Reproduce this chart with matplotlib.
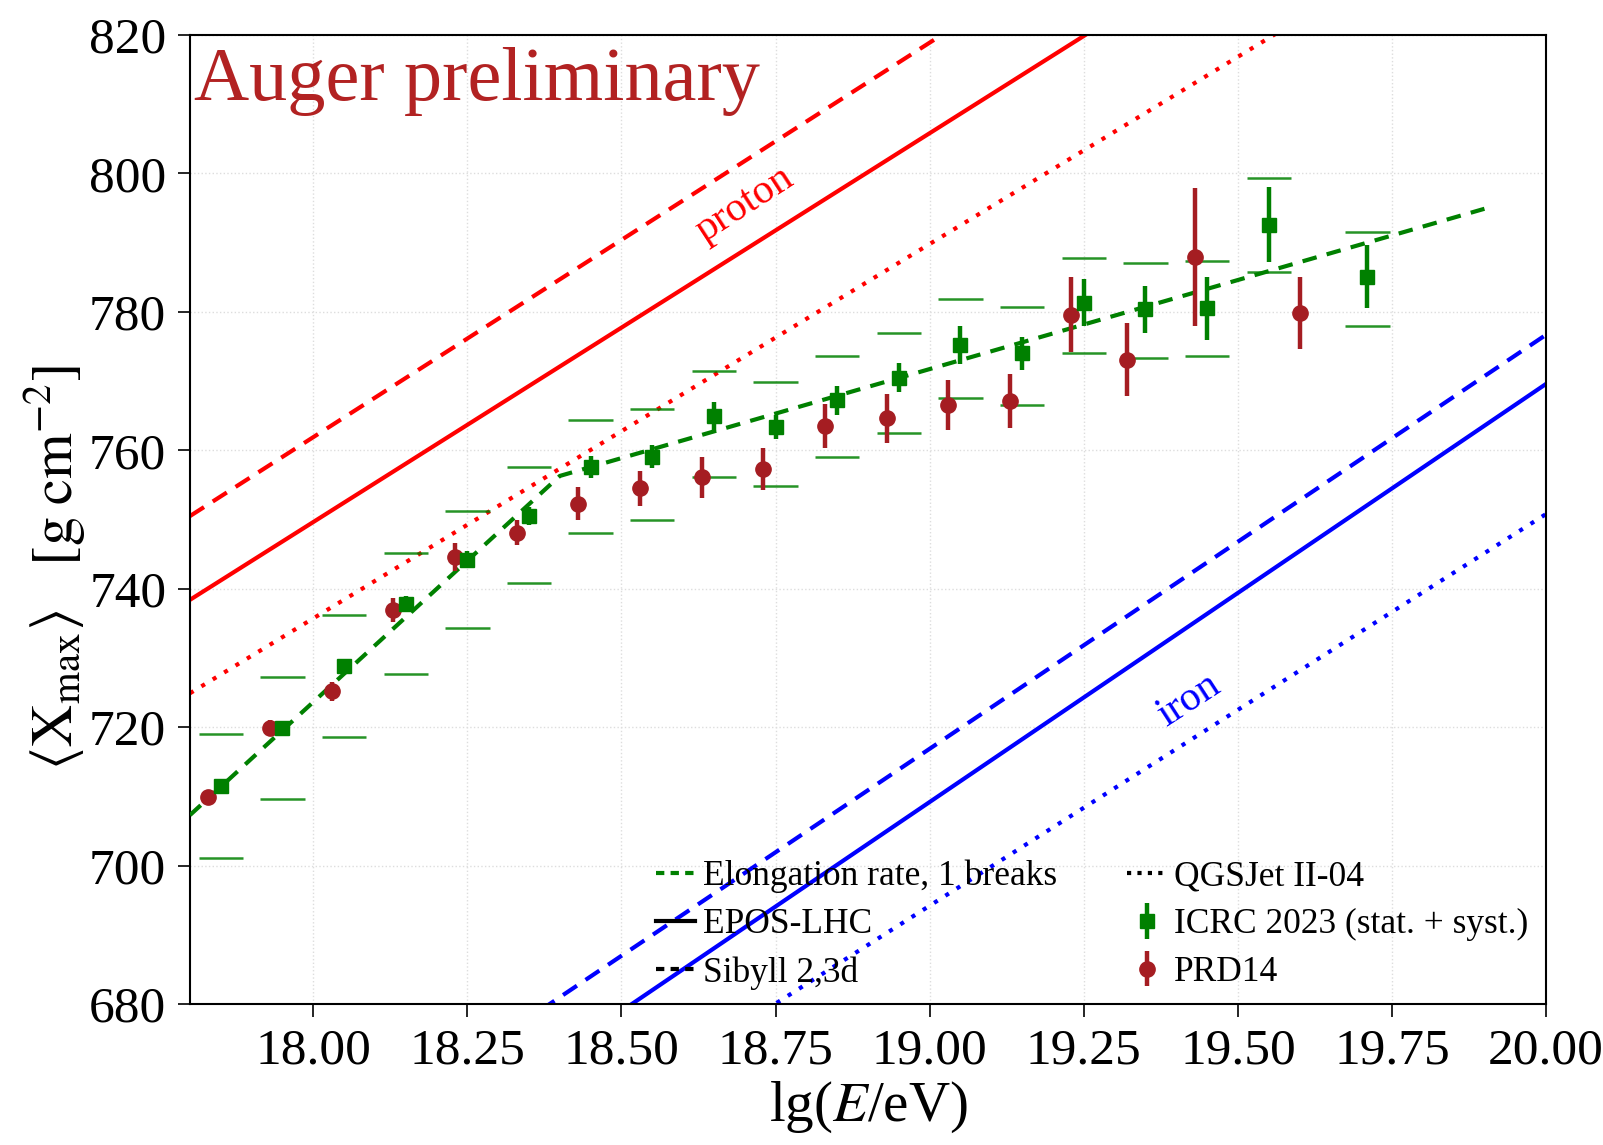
import numpy as np
import matplotlib
matplotlib.use("Agg")
import matplotlib.pyplot as plt
from matplotlib.lines import Line2D

plt.rcParams['font.family'] = ['Liberation Serif', 'DejaVu Serif']
plt.rcParams['mathtext.fontset'] = 'stix'

# ICRC 2023 <Xmax> with stat. errors and syst. band edges
icrc_lgE = [17.85, 17.95, 18.05, 18.15, 18.25, 18.35, 18.45, 18.55, 18.65, 18.75,
            18.85, 18.95, 19.05, 19.15, 19.25, 19.35, 19.45, 19.55, 19.71]
icrc_xmax = [711.5, 719.9, 728.8, 737.8, 744.2, 750.5, 757.6, 759.1, 764.9, 763.4,
             767.2, 770.5, 775.2, 774.0, 781.3, 780.4, 780.5, 792.6, 785.1]
icrc_stat = [1.0, 1.0, 1.1, 1.2, 1.2, 1.3, 1.6, 1.6, 2.1, 1.7,
             2.1, 2.1, 2.7, 2.4, 3.4, 3.4, 4.5, 5.4, 4.5]
icrc_sys_up = [719.0, 727.3, 736.2, 745.2, 751.3, 757.6, 764.4, 765.9, 771.5, 769.9,
               773.7, 777.0, 781.9, 780.7, 787.8, 787.0, 787.3, 799.3, 791.6]
icrc_sys_lo = [701.1, 709.6, 718.6, 727.7, 734.3, 740.8, 748.1, 749.9, 756.1, 754.8,
               759.1, 762.5, 767.5, 766.5, 774.0, 773.3, 773.6, 785.7, 777.9]

# PRD14
prd_lgE = [17.83, 17.93, 18.03, 18.13, 18.23, 18.33, 18.43, 18.53, 18.63, 18.73,
           18.83, 18.93, 19.03, 19.13, 19.23, 19.32, 19.43, 19.60]
prd_xmax = [709.9, 719.9, 725.2, 736.9, 744.6, 748.1, 752.3, 754.5, 756.1, 757.3,
            763.5, 764.6, 766.5, 767.1, 779.6, 773.1, 787.9, 779.8]
prd_err = [1.0, 1.2, 1.4, 1.7, 2.0, 1.8, 2.4, 2.5, 3.0, 3.0,
           3.2, 3.5, 3.6, 3.9, 5.4, 5.3, 10.0, 5.2]

# elongation rate fit with one break
er_lgE = [17.80, 18.40, 19.90]
er_xmax = [707.3, 756.3, 794.9]

# model predictions (proton / iron) at the ends of the range
model_lgE = [17.8, 20.0]
p_epos = [738.4, 862.0]
p_sibyll = [750.5, 875.9]
p_qgsjet = [724.9, 843.9]
fe_epos = [636.7, 769.6]
fe_sibyll = [645.1, 776.7]
fe_qgsjet = [626.3, 750.8]

fig = plt.figure(figsize=(16.03, 11.45), dpi=100)
ax = fig.add_axes([0.1185, 0.1231, 0.8460, 0.8463])

lw = 3.0
ax.plot(model_lgE, p_epos, color='#ff0000', lw=lw, ls='-')
ax.plot(model_lgE, p_sibyll, color='#ff0000', lw=lw, ls=(0, (4, 2.5)))
ax.plot(model_lgE, p_qgsjet, color='#ff0000', lw=lw, ls=(0, (1, 2.2)))
ax.plot(model_lgE, fe_epos, color='#0000ff', lw=lw, ls='-')
ax.plot(model_lgE, fe_sibyll, color='#0000ff', lw=lw, ls=(0, (4, 2.5)))
ax.plot(model_lgE, fe_qgsjet, color='#0000ff', lw=lw, ls=(0, (1, 2.2)))

ax.plot(er_lgE, er_xmax, color='green', lw=3, ls=(0, (3.5, 2.5)), zorder=4)

# systematic band edges
hw = 0.036
ax.hlines(icrc_sys_up, np.array(icrc_lgE) - hw, np.array(icrc_lgE) + hw,
          color='green', lw=1.8, alpha=0.85, zorder=3)
ax.hlines(icrc_sys_lo, np.array(icrc_lgE) - hw, np.array(icrc_lgE) + hw,
          color='green', lw=1.8, alpha=0.85, zorder=3)

eb_prd = ax.errorbar(prd_lgE, prd_xmax, yerr=prd_err, fmt='o', color='#a51d22',
                     ms=11, elinewidth=3.2, capsize=0, zorder=5)
eb_icrc = ax.errorbar(icrc_lgE, icrc_xmax, yerr=icrc_stat, fmt='s', color='green',
                      ms=10.5, elinewidth=3.2, capsize=0, zorder=6)

ax.set_xlim(17.8, 20.0)
ax.set_ylim(680, 820)
ax.set_xticks([18.0, 18.25, 18.5, 18.75, 19.0, 19.25, 19.5, 19.75, 20.0])
ax.set_xticklabels(['18.00', '18.25', '18.50', '18.75', '19.00', '19.25',
                    '19.50', '19.75', '20.00'])
ax.set_yticks(np.arange(680, 821, 20))
ax.tick_params(labelsize=37, length=9, width=1.2, pad=8)
ax.grid(True, color='#dddddd', ls=':', lw=1)
for sp in ax.spines.values():
    sp.set_linewidth(1.5)

ax.set_xlabel(r'lg($E$/eV)', fontsize=41, labelpad=4)
ax.set_ylabel(r'$\langle \mathrm{X}_{\mathrm{max}} \rangle\ \ \ [\mathrm{g}\;\mathrm{cm}^{-2}]$',
              fontsize=42)
ax.yaxis.set_label_coords(-0.075, 0.45)

ax.text(0.003, 0.988, 'Auger preliminary', transform=ax.transAxes, fontsize=55,
        color='#b22222', ha='left', va='top')
ax.text(18.70, 795.6, 'proton', color='#ff0000', fontsize=30, rotation=33,
        ha='center', va='center')
ax.text(19.42, 723.9, 'iron', color='#0000ff', fontsize=30, rotation=33,
        ha='center', va='center')

handles = [Line2D([], [], color='green', lw=3, ls=(0, (2, 1.5))),
           Line2D([], [], color='black', lw=3, ls='-'),
           Line2D([], [], color='black', lw=3, ls=(0, (2, 1.5))),
           Line2D([], [], color='black', lw=3, ls=(0, (1, 1.5))),
           eb_icrc, eb_prd]
labels = ['Elongation rate, 1 breaks', 'EPOS-LHC', 'Sibyll 2,3d',
          'QGSJet II-04', 'ICRC 2023 (stat. + syst.)', 'PRD14']
ax.legend(handles, labels, ncol=2, loc='lower right', bbox_to_anchor=(1.01, -0.018),
          frameon=False, fontsize=25.5, handlelength=1.1, handletextpad=0.2,
          columnspacing=2.0, labelspacing=0.42)

fig.savefig('out.png', dpi=100)
